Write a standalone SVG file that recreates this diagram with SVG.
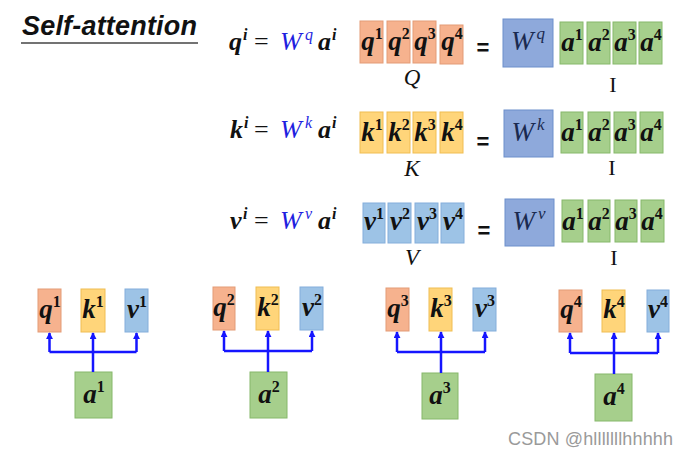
<svg xmlns="http://www.w3.org/2000/svg" width="688" height="455" viewBox="0 0 688 455">
<style>
.m{font-family:"Liberation Serif",serif;font-weight:bold;font-style:italic;font-size:27px;fill:#111}
.s{font-size:16px;font-style:normal;font-weight:bold}
.eq{font-family:"Liberation Serif",serif;font-size:26px;fill:#111}
.bi{font-weight:bold;font-style:italic}
.w{font-style:italic;fill:#1f1fe0}
.ws{font-size:16px;font-style:italic;fill:#1f1fe0}
.wl{font-family:"Liberation Serif",serif;font-style:italic;font-size:27px;fill:#1a2a50}
.lab{font-family:"Liberation Serif",serif;font-style:italic;font-size:23px;fill:#111}
.I{font-family:"Liberation Serif",serif;font-size:22px;fill:#111}
.eqs{font-family:"Liberation Sans",sans-serif;font-weight:bold;font-size:22px;fill:#111}
.q{fill:#F6B28E;stroke:#E39B76;stroke-width:1}
.k{fill:#FFD57A;stroke:#F0BD52;stroke-width:1}
.v{fill:#9DC3E6;stroke:#84AEDB;stroke-width:1}
.W{fill:#8EA9DB;stroke:#6D8FCB;stroke-width:1}
.a{fill:#A6CF8C;stroke:#86B86B;stroke-width:1}
.c{fill:none;stroke:#1515FF;stroke-width:2.5}
</style>
<defs>
<marker id="ah" viewBox="0 0 8 8" refX="7" refY="4" markerWidth="7" markerHeight="7" orient="auto" markerUnits="userSpaceOnUse"><path d="M0 0 L8 4 L0 8 z" fill="#1515FF"/></marker>
</defs>
<rect width="688" height="455" fill="#fff"/>

<g id="title">
<text x="22" y="35" font-family="Liberation Sans, sans-serif" font-weight="bold" font-style="italic" font-size="27" fill="#111" textLength="175">Self-attention</text>
<line x1="21" y1="43" x2="198" y2="43" stroke="#444" stroke-width="1.5"/>
</g>

<g id="eq-q">
<text class="eq" y="50"><tspan class="bi" x="229">q</tspan><tspan class="s bi" x="243" dy="-10">i</tspan><tspan x="254" dy="10">=</tspan><tspan class="w" x="280">W</tspan><tspan class="ws" x="305" dy="-10">q</tspan><tspan class="bi" x="318" dy="10">a</tspan><tspan class="s bi" x="332" dy="-10">i</tspan></text>
</g>
<g id="eq-k">
<text class="eq" y="138"><tspan class="bi" x="230">k</tspan><tspan class="s bi" x="244" dy="-10">i</tspan><tspan x="254" dy="10">=</tspan><tspan class="w" x="280">W</tspan><tspan class="ws" x="305" dy="-10">k</tspan><tspan class="bi" x="318" dy="10">a</tspan><tspan class="s bi" x="332" dy="-10">i</tspan></text>
</g>
<g id="eq-v">
<text class="eq" y="229"><tspan class="bi" x="230">v</tspan><tspan class="s bi" x="243" dy="-10">i</tspan><tspan x="254" dy="10">=</tspan><tspan class="w" x="280">W</tspan><tspan class="ws" x="305" dy="-10">v</tspan><tspan class="bi" x="318" dy="10">a</tspan><tspan class="s bi" x="332" dy="-10">i</tspan></text>
</g>

<g id="Q">
<rect class="q" x="360" y="21" width="23" height="42"/>
<rect class="q" x="387" y="21" width="23" height="42"/>
<rect class="q" x="413" y="21" width="23" height="42"/>
<rect class="q" x="440" y="25" width="23" height="39"/>
<text class="m" x="372" y="50" text-anchor="middle">q<tspan class="s" dy="-11">1</tspan></text>
<text class="m" x="399" y="50" text-anchor="middle">q<tspan class="s" dy="-11">2</tspan></text>
<text class="m" x="425" y="50" text-anchor="middle">q<tspan class="s" dy="-11">3</tspan></text>
<text class="m" x="452" y="50" text-anchor="middle">q<tspan class="s" dy="-11">4</tspan></text>
<text class="lab" x="412" y="85" text-anchor="middle">Q</text>
</g>
<text class="eqs" x="483" y="55" text-anchor="middle">=</text>
<g id="Wq">
<rect class="W" x="503" y="19" width="50" height="48"/>
<text class="wl" x="528" y="50" text-anchor="middle">W<tspan font-size="17" dx="3" dy="-11">q</tspan></text>
</g>
<g id="I1">
<rect class="a" x="560" y="22" width="23" height="42"/>
<rect class="a" x="587" y="22" width="23" height="42"/>
<rect class="a" x="613" y="22" width="23" height="42"/>
<rect class="a" x="639" y="22" width="23" height="42"/>
<text class="m" x="572" y="51" text-anchor="middle">a<tspan class="s" dy="-11">1</tspan></text>
<text class="m" x="599" y="51" text-anchor="middle">a<tspan class="s" dy="-11">2</tspan></text>
<text class="m" x="625" y="51" text-anchor="middle">a<tspan class="s" dy="-11">3</tspan></text>
<text class="m" x="651" y="51" text-anchor="middle">a<tspan class="s" dy="-11">4</tspan></text>
<text class="I" x="613" y="92" text-anchor="middle">I</text>
</g>

<g id="K">
<rect class="k" x="360" y="112" width="23" height="41"/>
<rect class="k" x="387" y="112" width="23" height="41"/>
<rect class="k" x="413" y="112" width="23" height="41"/>
<rect class="k" x="440" y="112" width="23" height="41"/>
<text class="m" x="372" y="141" text-anchor="middle">k<tspan class="s" dy="-11">1</tspan></text>
<text class="m" x="399" y="141" text-anchor="middle">k<tspan class="s" dy="-11">2</tspan></text>
<text class="m" x="425" y="141" text-anchor="middle">k<tspan class="s" dy="-11">3</tspan></text>
<text class="m" x="452" y="141" text-anchor="middle">k<tspan class="s" dy="-11">4</tspan></text>
<text class="lab" x="412" y="176" text-anchor="middle">K</text>
</g>
<text class="eqs" x="483" y="149" text-anchor="middle">=</text>
<g id="Wk">
<rect class="W" x="504" y="110" width="49" height="47"/>
<text class="wl" x="528" y="141" text-anchor="middle">W<tspan font-size="17" dx="3" dy="-11">k</tspan></text>
</g>
<g id="I2">
<rect class="a" x="561" y="112" width="22" height="41"/>
<rect class="a" x="588" y="112" width="22" height="41"/>
<rect class="a" x="614" y="112" width="22" height="41"/>
<rect class="a" x="640" y="112" width="23" height="41"/>
<text class="m" x="572" y="141" text-anchor="middle">a<tspan class="s" dy="-11">1</tspan></text>
<text class="m" x="599" y="141" text-anchor="middle">a<tspan class="s" dy="-11">2</tspan></text>
<text class="m" x="625" y="141" text-anchor="middle">a<tspan class="s" dy="-11">3</tspan></text>
<text class="m" x="651" y="141" text-anchor="middle">a<tspan class="s" dy="-11">4</tspan></text>
<text class="I" x="612" y="175" text-anchor="middle">I</text>
</g>

<g id="V">
<rect class="v" x="363" y="203" width="22" height="40"/>
<rect class="v" x="388" y="203" width="23" height="40"/>
<rect class="v" x="415" y="203" width="23" height="40"/>
<rect class="v" x="441" y="203" width="23" height="40"/>
<text class="m" x="374" y="230" text-anchor="middle">v<tspan class="s" dy="-11">1</tspan></text>
<text class="m" x="400" y="230" text-anchor="middle">v<tspan class="s" dy="-11">2</tspan></text>
<text class="m" x="427" y="230" text-anchor="middle">v<tspan class="s" dy="-11">3</tspan></text>
<text class="m" x="453" y="230" text-anchor="middle">v<tspan class="s" dy="-11">4</tspan></text>
<text class="lab" x="412" y="265" text-anchor="middle">V</text>
</g>
<text class="eqs" x="484" y="238" text-anchor="middle">=</text>
<g id="Wv">
<rect class="W" x="505" y="199" width="49" height="47"/>
<text class="wl" x="529" y="230" text-anchor="middle">W<tspan font-size="17" dx="3" dy="-11">v</tspan></text>
</g>
<g id="I3">
<rect class="a" x="562" y="200" width="21" height="42"/>
<rect class="a" x="588" y="200" width="22" height="42"/>
<rect class="a" x="615" y="200" width="22" height="42"/>
<rect class="a" x="641" y="200" width="23" height="42"/>
<text class="m" x="573" y="230" text-anchor="middle">a<tspan class="s" dy="-11">1</tspan></text>
<text class="m" x="599" y="230" text-anchor="middle">a<tspan class="s" dy="-11">2</tspan></text>
<text class="m" x="626" y="230" text-anchor="middle">a<tspan class="s" dy="-11">3</tspan></text>
<text class="m" x="652" y="230" text-anchor="middle">a<tspan class="s" dy="-11">4</tspan></text>
<text class="I" x="614" y="265" text-anchor="middle">I</text>
</g>

<g id="q1"><rect class="q" x="38" y="289" width="23" height="43"/><text class="m" x="50" y="318" text-anchor="middle">q<tspan class="s" dy="-11">1</tspan></text></g>
<g id="k1"><rect class="k" x="81" y="289" width="24" height="43"/><text class="m" x="93" y="318" text-anchor="middle">k<tspan class="s" dy="-11">1</tspan></text></g>
<g id="v1"><rect class="v" x="125" y="289" width="23" height="43"/><text class="m" x="137" y="318" text-anchor="middle">v<tspan class="s" dy="-11">1</tspan></text></g>
<g id="a1"><rect class="a" x="75" y="372" width="37" height="46"/><text class="m" x="94" y="403" text-anchor="middle">a<tspan class="s" dy="-11">1</tspan></text></g>

<g id="q2"><rect class="q" x="213" y="287" width="22" height="43"/><text class="m" x="224" y="316" text-anchor="middle">q<tspan class="s" dy="-11">2</tspan></text></g>
<g id="k2"><rect class="k" x="256" y="287" width="23" height="43"/><text class="m" x="268" y="316" text-anchor="middle">k<tspan class="s" dy="-11">2</tspan></text></g>
<g id="v2"><rect class="v" x="300" y="287" width="23" height="43"/><text class="m" x="312" y="316" text-anchor="middle">v<tspan class="s" dy="-11">2</tspan></text></g>
<g id="a2"><rect class="a" x="250" y="372" width="37" height="46"/><text class="m" x="269" y="403" text-anchor="middle">a<tspan class="s" dy="-11">2</tspan></text></g>

<g id="q3"><rect class="q" x="386" y="288" width="23" height="43"/><text class="m" x="398" y="317" text-anchor="middle">q<tspan class="s" dy="-11">3</tspan></text></g>
<g id="k3"><rect class="k" x="429" y="288" width="23" height="43"/><text class="m" x="441" y="317" text-anchor="middle">k<tspan class="s" dy="-11">3</tspan></text></g>
<g id="v3"><rect class="v" x="473" y="288" width="23" height="43"/><text class="m" x="485" y="317" text-anchor="middle">v<tspan class="s" dy="-11">3</tspan></text></g>
<g id="a3"><rect class="a" x="422" y="373" width="36" height="46"/><text class="m" x="440" y="404" text-anchor="middle">a<tspan class="s" dy="-11">3</tspan></text></g>

<g id="q4"><rect class="q" x="559" y="290" width="23" height="42"/><text class="m" x="571" y="318" text-anchor="middle">q<tspan class="s" dy="-11">4</tspan></text></g>
<g id="k4"><rect class="k" x="602" y="290" width="23" height="42"/><text class="m" x="614" y="318" text-anchor="middle">k<tspan class="s" dy="-11">4</tspan></text></g>
<g id="v4"><rect class="v" x="647" y="290" width="22" height="42"/><text class="m" x="658" y="318" text-anchor="middle">v<tspan class="s" dy="-11">4</tspan></text></g>
<g id="a4"><rect class="a" x="595" y="374" width="37" height="47"/><text class="m" x="614" y="405" text-anchor="middle">a<tspan class="s" dy="-11">4</tspan></text></g>

<g id="connectors">
<path class="c" d="M49.5 352 H136.5"/>
<path class="c" d="M49.5 352 V333" marker-end="url(#ah)"/>
<path class="c" d="M136.5 352 V333" marker-end="url(#ah)"/>
<path class="c" d="M93 372 V333" marker-end="url(#ah)"/>

<path class="c" d="M224 351 H312"/>
<path class="c" d="M224 351 V331" marker-end="url(#ah)"/>
<path class="c" d="M312 351 V331" marker-end="url(#ah)"/>
<path class="c" d="M268 372 V331" marker-end="url(#ah)"/>

<path class="c" d="M397 352 H485"/>
<path class="c" d="M397 352 V332" marker-end="url(#ah)"/>
<path class="c" d="M485 352 V332" marker-end="url(#ah)"/>
<path class="c" d="M441 373 V332" marker-end="url(#ah)"/>

<path class="c" d="M570 353 H658"/>
<path class="c" d="M570 353 V333" marker-end="url(#ah)"/>
<path class="c" d="M658 353 V333" marker-end="url(#ah)"/>
<path class="c" d="M614 374 V333" marker-end="url(#ah)"/>
</g>

<text x="508" y="445" font-family="Liberation Sans, sans-serif" font-size="18" fill="#9a9a9a" textLength="165">CSDN @hlllllllhhhhh</text>
</svg>
